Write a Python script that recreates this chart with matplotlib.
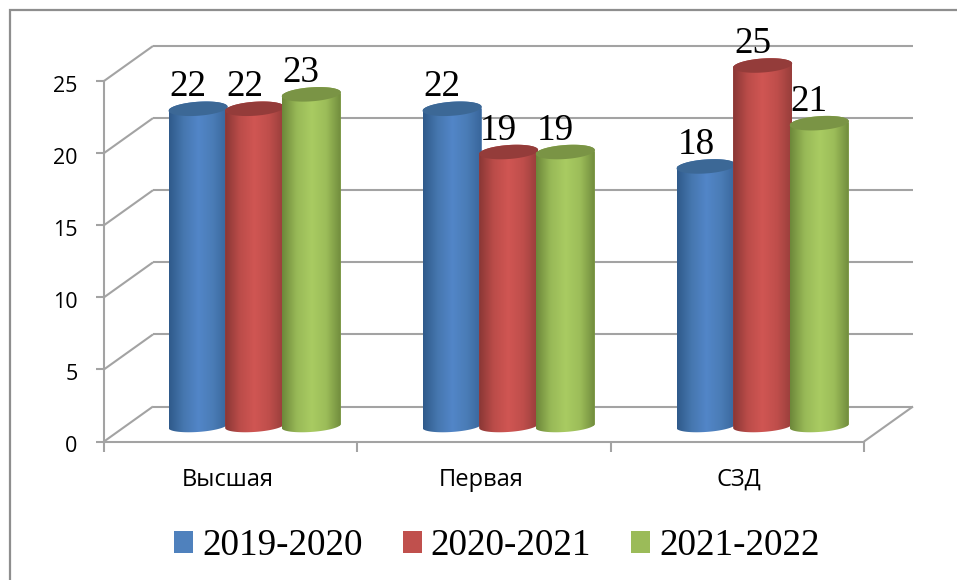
import numpy as np
import matplotlib
matplotlib.use("Agg")
import matplotlib.pyplot as plt
from matplotlib.colors import LinearSegmentedColormap
from matplotlib.patches import Patch, PathPatch, Rectangle
from matplotlib.path import Path
from matplotlib.transforms import ScaledTranslation

categories = ["Высшая", "Первая", "СЗД"]
series_names = ["2019-2020", "2020-2021", "2021-2022"]
values_2019 = [22, 22, 18]
values_2020 = [22, 19, 25]
values_2021 = [23, 19, 21]
y_ticks = [0, 5, 10, 15, 20, 25]

W, H = 957, 580
L, R, T, B = 104, 864, 81, 441.5
PX_X = (R - L) / 3.0
PX_Y = (B - T) / 25.0
GRAY = "#a3a3a3"

fig = plt.figure(figsize=(W / 100, H / 100), dpi=100, facecolor="white")
ax = fig.add_axes([L / W, 1 - B / H, (R - L) / W, (B - T) / H])
ax.set_xlim(-0.5, 2.5)
ax.set_ylim(0, 25)
ax.patch.set_visible(False)

# outer frame
fig.add_artist(Rectangle((9.5 / W, -0.02), 1.1, 1.02 - 9.5 / H, transform=fig.transFigure,
                         fill=False, edgecolor="#8e8e8e", linewidth=1.6))

# 3-D wall offset in data units
dx = 49 / PX_X
dy = 35 / PX_Y
kw = dict(color=GRAY, lw=1.5, clip_on=False, zorder=1, solid_capstyle="butt")
for v in y_ticks:
    ax.plot([-0.5 + dx, 2.5 + dx], [v + dy, v + dy], **kw)
    ax.plot([-0.5, -0.5 + dx], [v, v + dy], **kw)
ax.plot([2.5, 2.5 + dx], [0, dy], **kw)

# cylinders
mid_x = 24 / PX_X
mid_y = 15.5 / PX_Y
group_step = 254 / PX_X
pitch = 56.6 / PX_X
width = 59 / PX_X
semi_h = 7.0 / PX_Y
tilt = 2.0 / PX_Y

palette = [
    (["#2f5a8a", "#4677af", "#5286c8", "#4a7cb6", "#38659a"], "#3c6896", "#4f81bd"),
    (["#893735", "#bb4c49", "#d05653", "#bf4e4b", "#973e3b"], "#943c3a", "#c0504d"),
    (["#6c873a", "#98b957", "#a9cb62", "#9cbd59", "#718c3d"], "#7a9445", "#9bbb59"),
]
all_values = [values_2019, values_2020, values_2021]
tt = np.linspace(0, np.pi, 50)
for s, vals in enumerate(all_values):
    stops, top_color, flat = palette[s]
    cmap = LinearSegmentedColormap.from_list("c%d" % s, stops)
    xs = np.arange(len(categories)) * group_step + mid_x + (s - 1) * pitch
    bars = ax.bar(xs, vals, width, bottom=mid_y, color=flat, zorder=2 + s)
    for xc, v, bar in zip(xs, vals, bars):
        hw = width / 2
        bx = xc - hw * np.cos(tt)
        by = mid_y - semi_h * 0.85 * np.sin(tt) - tilt * np.cos(tt)
        tx = xc + hw * np.cos(tt)
        ty = mid_y + v + semi_h * np.sin(tt) + tilt * np.cos(tt)
        pts = np.vstack([np.column_stack([bx, by]), np.column_stack([tx, ty]), [[bx[0], by[0]]]])
        cyl = PathPatch(Path(pts, closed=True), transform=ax.transData, fc="none", ec="none")
        ax.add_patch(cyl)
        cyl.set_clip_on(False)
        bar.set_clip_box(fig.bbox)
        bar.set_clip_path(cyl)
        im = ax.imshow(np.linspace(0, 1, 256)[None, :], cmap=cmap, aspect="auto",
                       extent=[xc - hw, xc + hw, 0, v + mid_y + semi_h * 2],
                       zorder=2 + s, interpolation="bilinear")
        im.set_clip_box(fig.bbox)
        im.set_clip_path(cyl)
        # top cap
        t2 = np.linspace(0, 2 * np.pi, 100)
        ax.fill(xc + hw * np.cos(t2),
                mid_y + v + semi_h * np.sin(t2) + tilt * np.cos(t2),
                color=top_color, lw=0, zorder=2.5 + s, clip_on=False)
        ax.annotate(str(v), (xc, v + mid_y), xytext=(-10 * 0.72, 12.5 * 0.72),
                    textcoords="offset points", ha="center", va="baseline",
                    family="Liberation Serif", fontsize=26.7, color="black",
                    zorder=10, annotation_clip=False)

ax.set_xlim(-0.5, 2.5)
ax.set_ylim(0, 25)

# axes
for side in ("top", "right"):
    ax.spines[side].set_visible(False)
for side in ("left", "bottom"):
    ax.spines[side].set_color(GRAY)
    ax.spines[side].set_linewidth(1.5)
    ax.spines[side].set_zorder(1)
ax.set_yticks(y_ticks)
ax.tick_params(axis="y", length=6, width=1.5, color=GRAY, pad=13,
               labelsize=15.5, labelfontfamily="Open Sans", labelcolor="black")
shift = ScaledTranslation(0, -2.0 / 72, fig.dpi_scale_trans)
for lab in ax.get_yticklabels():
    lab.set_transform(lab.get_transform() + shift)
ax.set_xticks([-0.5, 0.5, 1.5, 2.5])
ax.set_xticklabels([])
ax.set_xticks(np.arange(3) + np.array([-0.010, -0.011, 0.005]), minor=True)
ax.set_xticklabels(categories, minor=True)
ax.tick_params(axis="x", which="major", length=7, width=1.5, color=GRAY)
ax.tick_params(axis="x", which="minor", length=0, pad=19,
               labelsize=17, labelfontfamily="Open Sans", labelcolor="black")

handles = [Patch(facecolor=p[2], edgecolor="none") for p in palette]
fig.legend(handles, series_names, ncol=3, loc="center", bbox_to_anchor=(497 / W, 1 - 546 / H),
           frameon=False, prop={"family": "Liberation Serif", "size": 26.7},
           handlelength=0.513, handleheight=0.513, handletextpad=0.243,
           columnspacing=1.08, borderpad=0, borderaxespad=0, labelcolor="black")

fig.savefig("out.png", dpi=100, facecolor="white")
